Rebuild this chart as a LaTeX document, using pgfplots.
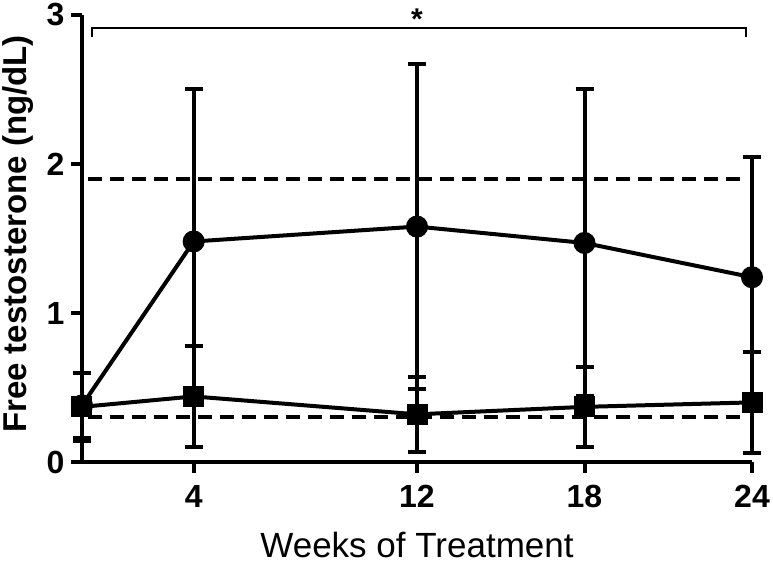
\documentclass[border=0pt]{standalone}
\usepackage{fontspec}
\setmainfont{Liberation Sans}
\usepackage{pgfplots}
\pgfplotsset{compat=1.18}
\begin{document}
\begin{tikzpicture}
\useasboundingbox (-82pt,-105pt) rectangle (691pt,462pt);
\begin{axis}[
  anchor=origin, at={(0pt,0pt)},
  scale only axis, width=670pt, height=447pt,
  xmin=0, xmax=24, ymin=0, ymax=3,
  clip=false,
  axis x line=bottom, axis y line=left,
  axis line style={-, line width=4.5pt},
  xtick={4,12,18,24}, ytick={0,1,2,3},
  tick align=outside, major tick length=11pt,
  tick style={line width=4pt, black},
  /pgf/number format/assume math mode=true,
  ticklabel style={font=\fontsize{32}{36}\selectfont\bfseries},
  xticklabel style={yshift=-9pt},
  yticklabel style={xshift=-3pt},
  xlabel={Weeks of Treatment},
  ylabel={Free testosterone (ng/dL)},
  xlabel style={font=\fontsize{35}{40}\selectfont, inner sep=0pt, at={(axis description cs:0.5,-0.214)}, anchor=base},
  ylabel style={font=\fontsize{33}{38}\selectfont\bfseries, inner sep=0pt, at={(axis description cs:-0.096,0.51)}, anchor=center},
]
% reference lines
\addplot[black, line width=4pt, dash pattern=on 14pt off 8pt] coordinates {(0.2,1.9) (23.6,1.9)};
\addplot[black, line width=4pt, dash pattern=on 14pt off 8pt] coordinates {(0.2,0.3) (23.6,0.3)};
% bracket
\addplot[black, line width=2pt] coordinates {(0.36,2.85) (0.36,2.913) (23.8,2.913) (23.8,2.85)};
\node[font=\fontsize{30}{30}\selectfont\bfseries, inner sep=0pt] at (axis cs:12.0,2.97) {*};
% circles
\addplot[black, line width=4pt, mark=*, mark size=9pt, mark options={solid, fill=black},
  error bars/.cd, y dir=both, y explicit,
  error bar style={line width=4pt, black},
  error mark options={rotate=90, mark size=9pt, line width=4pt, black}]
  coordinates {
  (0,0.38) +- (0,0.22)
  (4,1.48) +- (0,1.02)
  (12,1.58) +- (0,1.09)
  (18,1.47) +- (0,1.03)
  (24,1.24) +- (0,0.81)
  };
% squares
\addplot[black, line width=4pt, mark=square*, mark size=8.5pt, mark options={solid, fill=black},
  error bars/.cd, y dir=both, y explicit,
  error bar style={line width=4pt, black},
  error mark options={rotate=90, mark size=9pt, line width=4pt, black}]
  coordinates {
  (0,0.37) +- (0,0.23)
  (4,0.44) +- (0,0.34)
  (12,0.32) +- (0,0.25)
  (18,0.37) +- (0,0.27)
  (24,0.40) +- (0,0.34)
  };
\end{axis}
\end{tikzpicture}
\end{document}
